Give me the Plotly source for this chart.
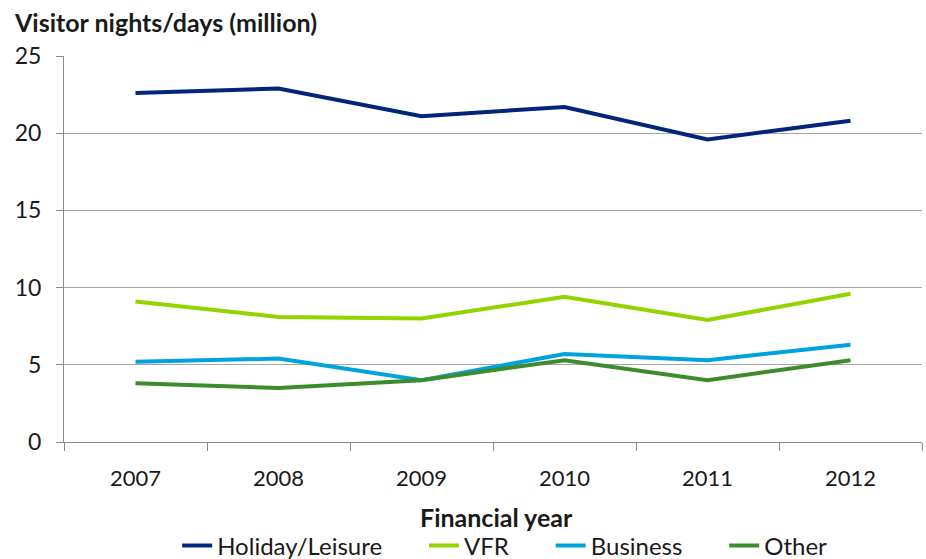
import plotly.graph_objects as go

years = ["2007", "2008", "2009", "2010", "2011", "2012"]
holiday_leisure = [22.6, 22.9, 21.1, 21.7, 19.6, 20.8]
vfr = [9.1, 8.1, 8.0, 9.4, 7.9, 9.6]
business = [5.2, 5.4, 4.0, 5.7, 5.3, 6.3]
other = [3.8, 3.5, 4.0, 5.3, 4.0, 5.3]

series = [
    ("Holiday/Leisure", holiday_leisure, "#00257A"),
    ("VFR", vfr, "#92D400"),
    ("Business", business, "#00A3E0"),
    ("Other", other, "#3C8C2E"),
]

FONT = "Lato, sans-serif"
AXIS_GREY = "#8c8c8c"
PAD = "\u00a0" * 6  # extra room between legend entries

# plot area in pixels
W, H = 926, 559
L, R, T, B = 64, 4, 56, 117
PW, PH = W - L - R, H - T - B

fig = go.Figure()
for i, (name, vals, color) in enumerate(series):
    label = name + (PAD if i < len(series) - 1 else "")
    fig.add_trace(go.Scatter(
        x=years, y=vals, name=label, mode="lines",
        line=dict(color=color, width=4),
    ))

fig.update_layout(
    width=W, height=H,
    margin=dict(l=L, r=R, t=T, b=B, autoexpand=False),
    paper_bgcolor="white", plot_bgcolor="white",
    font=dict(family=FONT, size=22, color="#1a1a1a"),
    showlegend=True,
    legend=dict(
        orientation="h", yref="container", xref="container",
        x=0.545, xanchor="center", y=(H - 546) / H, yanchor="middle",
        font=dict(size=24), tracegroupgap=0,
    ),
    annotations=[
        dict(
            text="<b>Visitor nights/days (million)</b>",
            xref="paper", yref="paper",
            x=(12 - L) / PW, y=(H - B - 22) / PH,
            xanchor="left", yanchor="middle",
            showarrow=False, font=dict(size=25, family=FONT),
        ),
        dict(
            text="<b>Financial year</b>",
            xref="paper", yref="paper",
            x=(497 - L) / PW, y=(H - B - 517) / PH,
            xanchor="center", yanchor="middle",
            showarrow=False, font=dict(size=25, family=FONT),
        ),
    ],
)

fig.update_xaxes(
    type="category", tickson="boundaries", ticks="outside", ticklen=8,
    tickcolor=AXIS_GREY, showline=True, linecolor=AXIS_GREY, linewidth=1,
    showgrid=False, ticklabelstandoff=17, tickfont=dict(size=22),
    range=[-0.5, 5.5], automargin=False,
)
fig.update_yaxes(
    range=[0, 25], dtick=5, ticks="outside", ticklen=7, tickcolor=AXIS_GREY,
    showline=True, linecolor=AXIS_GREY, linewidth=1,
    showgrid=True, gridcolor="#a6a6a6", gridwidth=1, zeroline=False,
    tickfont=dict(size=23), ticklabelstandoff=10, automargin=False,
)

fig.write_html("out.html")
